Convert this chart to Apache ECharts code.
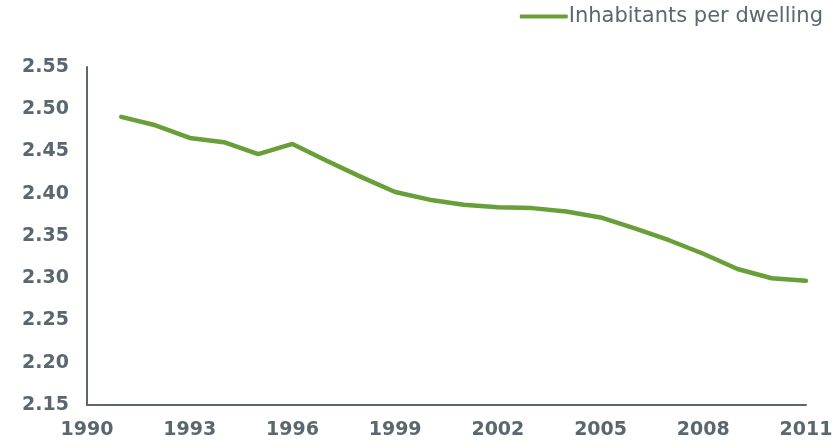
<!DOCTYPE html>
<html>
<head>
<meta charset="utf-8">
<script src="https://cdn.jsdelivr.net/npm/echarts@6/dist/echarts.min.js"></script>
<style>
  html, body { margin: 0; padding: 0; background: #ffffff; }
  #chart { width: 838px; height: 443px; }
</style>
</head>
<body>
<div id="chart"></div>
<script>
// Average number of inhabitants per dwelling, by year
const years = [1991, 1992, 1993, 1994, 1995, 1996, 1997, 1998, 1999, 2000, 2001,
               2002, 2003, 2004, 2005, 2006, 2007, 2008, 2009, 2010, 2011];
const inhabitantsPerDwelling = [2.491, 2.481, 2.466, 2.461, 2.447, 2.459, 2.439, 2.420, 2.402, 2.393, 2.387,
                                2.384, 2.383, 2.379, 2.372, 2.359, 2.345, 2.329, 2.311, 2.300, 2.297];
const seriesName = 'Inhabitants per dwelling';

const axisGrey = '#5b6770';
const lineGreen = '#689f38';
const fontFamily = '"DejaVu Sans", Verdana, sans-serif';

const chart = echarts.init(document.getElementById('chart'));
chart.setOption({
  animation: false,
  backgroundColor: '#ffffff',
  grid: { left: 87, right: 32, top: 67, bottom: 38, containLabel: false },
  legend: {
    top: 1,
    right: 10,
    itemWidth: 48,
    itemHeight: 4,
    itemGap: 10,
    icon: 'roundRect',
    data: [{ name: seriesName, itemStyle: { color: lineGreen } }],
    textStyle: { color: axisGrey, fontSize: 21, fontFamily: fontFamily, padding: [0, 0, 0, -4] }
  },
  xAxis: {
    type: 'value',
    min: 1990,
    max: 2011,
    interval: 3,
    splitLine: { show: false },
    axisTick: { show: false },
    axisLine: { show: true, lineStyle: { color: axisGrey, width: 2 } },
    axisLabel: {
      color: axisGrey, fontSize: 19, fontWeight: 'bold', fontFamily: fontFamily,
      margin: 16, formatter: v => String(v)
    }
  },
  yAxis: {
    type: 'value',
    min: 2.15,
    max: 2.55,
    interval: 0.05,
    splitLine: { show: false },
    axisTick: { show: false },
    axisLine: { show: true, lineStyle: { color: axisGrey, width: 2 } },
    axisLabel: {
      color: axisGrey, fontSize: 19, fontWeight: 'bold', fontFamily: fontFamily,
      margin: 18, formatter: v => v.toFixed(2)
    }
  },
  series: [{
    name: seriesName,
    type: 'line',
    data: years.map((y, i) => [y, inhabitantsPerDwelling[i]]),
    showSymbol: false,
    symbol: 'none',
    lineStyle: { color: lineGreen, width: 4.5, join: 'round', cap: 'round' },
    itemStyle: { color: lineGreen }
  }]
});
</script>
</body>
</html>
